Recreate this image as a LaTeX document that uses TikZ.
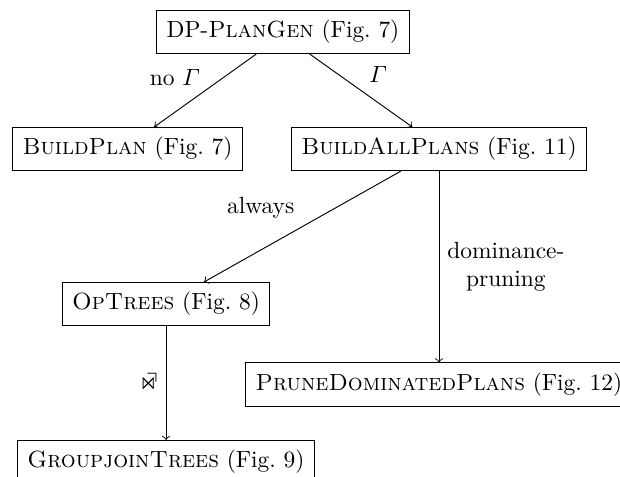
\documentclass[tikz,border=0pt]{standalone}
\usepackage{amsmath,amssymb}
\usetikzlibrary{positioning}
\tikzset{
    pgbox/.style={draw, rectangle, inner sep=4.2pt, line width=0.4pt},
    pgarrow/.style={->, line width=0.4pt},
    pglabel/.style={align=center}
}
\newcommand{\gjoinsym}{\mbox{\ooalign{$\Join$\cr\hfil$\urcorner$\cr}}}

\begin{document}
\begin{tikzpicture}[x=0.015cm, y=-0.015cm]
  \useasboundingbox (0,0) rectangle (620,476);
  \node[pgbox] (dpgen) at (283,32) {DP-\textsc{PlanGen} (Fig.~7)};
  \node[pgbox] (bplan) at (127.5,149) {\textsc{BuildPlan} (Fig.~7)};
  \node[pgbox] (ballplans) at (439,149) {\textsc{BuildAllPlans} (Fig.~11)};
  \node[pgbox] (optrees) at (166,304) {\textsc{OpTrees} (Fig.~8)};
  \node[pgbox] (prune) at (439,384.5) {\textsc{PruneDominatedPlans} (Fig.~12)};
  \node[pgbox] (gjtrees) at (166,462) {\textsc{GroupjoinTrees} (Fig.~9)};
  \draw[pgarrow] ([xshift=-0.4cm]dpgen.south) -- node[above left, inner sep=2pt] {no $\varGamma$} ([xshift=0.4cm]bplan.north);
  \draw[pgarrow] ([xshift=0.4cm]dpgen.south) -- node[above right] {$\varGamma$} ([xshift=-0.4cm]ballplans.north);
  \draw[pgarrow] ([xshift=-0.57cm]ballplans.south) -- node[above left] {always} ([xshift=0.57cm]optrees.north);
  \draw[pgarrow] (ballplans.south) -- node[right, pglabel] {dominance-\\pruning} (prune.north);
  \draw[pgarrow] (optrees.south) -- node[left] {\gjoinsym} (gjtrees.north);
\end{tikzpicture}
\end{document}
